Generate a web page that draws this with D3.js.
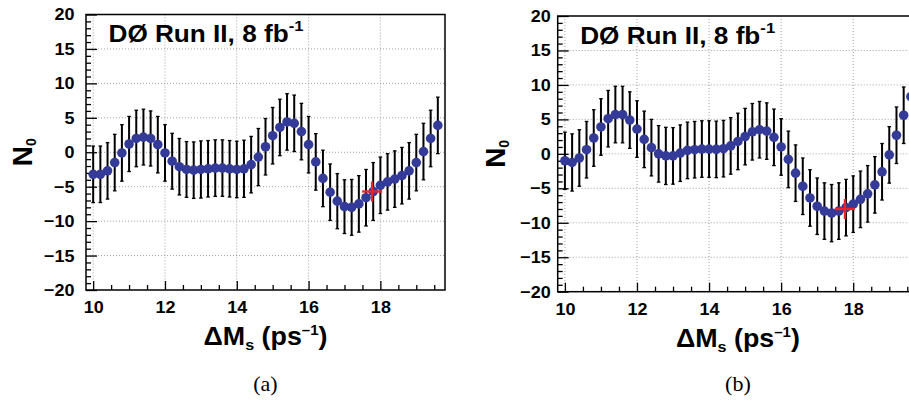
<!DOCTYPE html>
<html><head><meta charset="utf-8">
<script src="https://cdn.jsdelivr.net/npm/d3@7"></script>
<style>
html,body{margin:0;padding:0;background:#fff;}
svg{display:block;}
</style></head><body>
<svg id="c" width="909" height="402"></svg>
<script>
// ---------------- data ----------------
const deltaMs = [10.0,10.2,10.4,10.6,10.8,11.0,11.2,11.4,11.6,11.8,12.0,12.2,12.4,12.6,12.8,13.0,13.2,13.4,13.6,13.8,14.0,14.2,14.4,14.6,14.8,15.0,15.2,15.4,15.6,15.8,16.0,16.2,16.4,16.6,16.8,17.0,17.2,17.4,17.6,17.8,18.0,18.2,18.4,18.6,18.8,19.0,19.2,19.4,19.6];

const n0PanelA = [-3.2,-3.2,-2.7,-1.5,-0.1,1.2,2.0,2.2,2.0,1.1,
                  -0.1,-1.3,-2.1,-2.5,-2.6,-2.5,-2.4,-2.3,-2.3,-2.4,
                  -2.5,-2.4,-1.8,-0.7,0.8,2.4,3.6,4.4,4.2,3.0,
                  1.1,-1.4,-3.8,-5.8,-7.1,-7.9,-8.0,-7.5,-6.6,-5.7,
                  -4.8,-4.3,-3.9,-3.4,-2.7,-1.5,0.1,2.0,3.9];
const errPanelA = [4.1,4.1,4.1,4.1,4.1,4.0,4.1,4.05,4.0,4.1,
                   4.1,4.05,4.1,4.05,4.1,4.15,4.1,4.1,4.1,4.1,
                   4.1,4.15,4.1,4.15,4.1,4.1,4.1,4.1,4.1,4.1,
                   4.1,4.1,4.1,4.1,4.0,3.9,4.05,4.1,4.1,4.2,
                   4.1,4.1,4.1,4.1,4.1,4.1,4.1,4.1,4.1];

const n0PanelB = [-1.0,-1.25,-0.6,0.6,2.3,3.9,5.1,5.7,5.7,4.9,
                  3.6,2.1,0.9,0.0,-0.3,-0.3,0.1,0.5,0.6,0.7,
                  0.7,0.65,0.75,1.15,1.8,2.5,3.2,3.5,3.3,2.4,
                  1.0,-0.8,-2.8,-4.7,-6.4,-7.6,-8.3,-8.6,-8.3,-7.8,
                  -7.3,-6.6,-5.8,-4.5,-2.6,-0.15,2.7,5.6,8.3];
const errPanelB = [4.15,4.15,4.1,4.1,4.1,4.1,4.1,4.1,4.1,4.1,
                   4.1,4.1,4.1,4.1,4.15,4.1,4.1,4.1,4.1,4.1,
                   4.1,4.1,4.1,4.1,4.1,4.1,4.1,4.1,4.1,4.1,
                   4.1,4.1,4.1,4.1,4.1,4.1,4.1,4.15,4.1,4.1,
                   4.1,4.1,4.1,4.1,4.1,4.1,4.1,4.1,4.1];

const crossA = {x:17.77, y:-5.7};
const crossB = {x:17.77, y:-8.0};

const xDomain = [9.8, 19.8];
const yDomain = [-20, 20];
const xMajorTicks = [10,12,14,16,18];
const yMajorTicks = [-20,-15,-10,-5,0,5,10,15,20];
const expLabel = "DØ Run II, 8 fb";
const expLabelSup = "-1";
const xTitleParts = ["ΔM","s"," (ps","–1",")"];
const yTitleParts = ["N","0"];
const panelLabels = ["(a)","(b)"];

// ---------------- layout ----------------
const panels = [
  {left:86,    top:14.5, width:359,   height:275.5, n0:n0PanelA, err:errPanelA, cross:crossA, label:panelLabels[0], ytickPad:11.5, ytitle:54},
  {left:557.7, top:16,   width:360.4, height:275.7, n0:n0PanelB, err:errPanelB, cross:crossB, label:panelLabels[1], ytickPad:7,    ytitle:53}
];

const FONT = "'Liberation Sans', Arial, Helvetica, sans-serif";
const SERIF = "'Liberation Serif', 'Times New Roman', serif";
const DOT = "#343a98";
const svg = d3.select("#c");

function fitWidth(sel, target, ax) {
  const w = sel.node().getBBox().width;
  const s = target / w;
  sel.attr("transform", `translate(${ax},0) scale(${s},1) translate(${-ax},0)`);
}

panels.forEach(p => {
  const x = d3.scaleLinear().domain(xDomain).range([0, p.width]);
  const y = d3.scaleLinear().domain(yDomain).range([p.height, 0]);
  const g = svg.append("g").attr("transform", `translate(${p.left},${p.top})`);

  // grid
  g.append("g").selectAll("line").data(xMajorTicks).join("line")
    .attr("x1", d => x(d)).attr("x2", d => x(d)).attr("y1", 0).attr("y2", p.height)
    .attr("stroke", "#8a8a8a").attr("stroke-width", 0.8).attr("stroke-dasharray", "1,2");
  g.append("g").selectAll("line").data(yMajorTicks.filter(v => v > yDomain[0] && v < yDomain[1])).join("line")
    .attr("x1", 0).attr("x2", p.width).attr("y1", d => y(d)).attr("y2", d => y(d))
    .attr("stroke", "#8a8a8a").attr("stroke-width", 0.8).attr("stroke-dasharray", "1,2");

  const styleTicks = s => {
    s.select(".domain").remove();
    s.selectAll(".tick line").attr("stroke", "#000").attr("stroke-width", 1.3);
  };
  const styleLabels = s => s.selectAll("text")
    .attr("font-family", FONT).attr("font-weight", "bold").attr("font-size", 17).attr("fill", "#000");

  // x axis: minor + major ticks pointing inward
  const xMinor = x.ticks(20).filter(v => !xMajorTicks.includes(v));
  g.append("g").attr("transform", `translate(0,${p.height})`)
    .call(d3.axisBottom(x).tickValues(xMinor).tickSize(-5).tickFormat(""))
    .call(styleTicks);
  g.append("g").attr("transform", `translate(0,${p.height})`)
    .call(d3.axisBottom(x).tickValues(xMajorTicks).tickSize(-9).tickPadding(11).tickFormat(d3.format("d")))
    .call(styleTicks).call(styleLabels)
    .call(s => s.selectAll("text").attr("transform", "scale(1.06,1)"));

  // y axis
  const yMinor = y.ticks(40).filter(v => !yMajorTicks.includes(v));
  g.append("g")
    .call(d3.axisLeft(y).tickValues(yMinor).tickSize(-5).tickFormat(""))
    .call(styleTicks);
  g.append("g")
    .call(d3.axisLeft(y).tickValues(yMajorTicks).tickSize(-11).tickPadding(p.ytickPad / 1.06).tickFormat(d3.format("d")))
    .call(styleTicks).call(styleLabels)
    .call(s => s.selectAll("text").attr("transform", "scale(1.06,1)"));

  // frame
  g.append("rect").attr("x", 0).attr("y", 0).attr("width", p.width).attr("height", p.height)
    .attr("fill", "none").attr("stroke", "#000").attr("stroke-width", 1.5);

  // data
  const pts = deltaMs.map((d, i) => ({x: d, y: p.n0[i], e: p.err[i]}));
  const dg = g.append("g");
  dg.selectAll("line.eb").data(pts).join("line").attr("class", "eb")
    .attr("x1", d => x(d.x)).attr("x2", d => x(d.x))
    .attr("y1", d => y(d.y - d.e)).attr("y2", d => y(d.y + d.e))
    .attr("stroke", "#000").attr("stroke-width", 2);
  dg.selectAll("line.capt").data(pts).join("line").attr("class", "capt")
    .attr("x1", d => x(d.x) - 1.8).attr("x2", d => x(d.x) + 1.8)
    .attr("y1", d => y(d.y + d.e)).attr("y2", d => y(d.y + d.e))
    .attr("stroke", "#000").attr("stroke-width", 1.3);
  dg.selectAll("line.capb").data(pts).join("line").attr("class", "capb")
    .attr("x1", d => x(d.x) - 1.8).attr("x2", d => x(d.x) + 1.8)
    .attr("y1", d => y(d.y - d.e)).attr("y2", d => y(d.y - d.e))
    .attr("stroke", "#000").attr("stroke-width", 1.3);
  dg.selectAll("circle").data(pts).join("circle")
    .attr("cx", d => x(d.x)).attr("cy", d => y(d.y)).attr("r", 4.8)
    .attr("fill", DOT);

  // red cross (world average)
  const cx = x(p.cross.x), cy = y(p.cross.y);
  g.append("line").attr("x1", cx - 10).attr("x2", cx + 10).attr("y1", cy).attr("y2", cy)
    .attr("stroke", "#e8232b").attr("stroke-width", 2.4);
  g.append("line").attr("x1", cx).attr("x2", cx).attr("y1", cy - 10).attr("y2", cy + 10)
    .attr("stroke", "#e8232b").attr("stroke-width", 2.4);

  // experiment label
  const lab = g.append("text").attr("x", 22.5).attr("y", 28)
    .attr("font-family", FONT).attr("font-weight", "bold").attr("font-size", 23.5).attr("fill", "#000");
  lab.append("tspan").text(expLabel);
  lab.append("tspan").attr("font-size", 15).attr("dy", -11).text(expLabelSup);
  fitWidth(lab, 195, 22.5);

  // x title
  const xt = g.append("text").attr("x", p.width / 2).attr("y", p.height + 55)
    .attr("text-anchor", "middle")
    .attr("font-family", FONT).attr("font-weight", "bold").attr("font-size", 25).attr("fill", "#000");
  xt.append("tspan").text(xTitleParts[0]);
  xt.append("tspan").attr("font-size", 15).attr("dy", 5).text(xTitleParts[1]);
  xt.append("tspan").attr("dy", -5).text(xTitleParts[2]);
  xt.append("tspan").attr("font-size", 14).attr("dy", -10).text(xTitleParts[3]);
  xt.append("tspan").attr("dy", 10).text(xTitleParts[4]);
  fitWidth(xt, 124, p.width / 2);

  // y title
  const yt = g.append("text")
    .attr("transform", `translate(${-p.ytitle},${p.height / 2}) rotate(-90)`)
    .attr("text-anchor", "middle")
    .attr("font-family", FONT).attr("font-weight", "bold").attr("font-size", 28).attr("fill", "#000");
  yt.append("tspan").text(yTitleParts[0]);
  yt.append("tspan").attr("font-size", 14).attr("dy", 4).text(yTitleParts[1]);

  // panel label
  g.append("text").attr("x", p.width / 2).attr("y", 391 - p.top)
    .attr("text-anchor", "middle")
    .attr("font-family", SERIF).attr("font-size", 22).attr("fill", "#000")
    .text(p.label);
});
</script>
</body></html>
